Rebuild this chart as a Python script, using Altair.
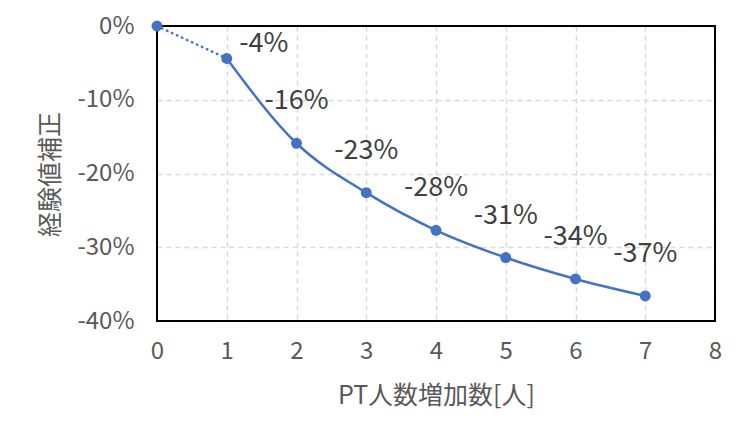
import altair as alt
import pandas as pd

xs = [0, 1, 2, 3, 4, 5, 6, 7]
vals = [0.0, -4.4, -15.9, -22.6, -27.7, -31.4, -34.3, -36.6]
labels = ["0%", "-4%", "-16%", "-23%", "-28%", "-31%", "-34%", "-37%"]

df = pd.DataFrame({"x": xs, "y": vals, "label": labels})

FONT = "Noto Sans CJK JP"
BLUE = "#4472C4"

xscale = alt.Scale(domain=[0, 8], nice=False, zero=False)
yscale = alt.Scale(domain=[-40, 0], nice=False)

xenc = alt.X("x:Q", scale=xscale,
             axis=alt.Axis(title="PT人数増加数[人]", values=list(range(0, 9)), format="d",
                           labelOverlap=False, labelFlush=False,
                           labelPadding=18, titlePadding=20))
yenc = alt.Y("y:Q", scale=yscale,
             axis=alt.Axis(title="経験値補正", values=[0, -10, -20, -30, -40],
                           labelExpr="datum.value + '%'", labelPadding=23,
                           labelOverlap=False, labelFlush=False,
                           titleX=-94, titleY=148))

base = alt.Chart(df)

dotted = base.transform_filter("datum.x <= 1").mark_line(
    color=BLUE, strokeWidth=2.5, strokeDash=[0.5, 5], strokeCap="round"
).encode(x=xenc, y=yenc)

solid = base.transform_filter("datum.x >= 1").mark_line(
    color=BLUE, strokeWidth=2.5, interpolate="monotone"
).encode(x="x:Q", y="y:Q")

frame = base.transform_filter("datum.x == 0").mark_rect(
    filled=False, stroke="black", strokeWidth=2, fillOpacity=0
).encode(x=alt.value(0), x2=alt.value(558), y=alt.value(0), y2=alt.value(295))

pts = base.mark_circle(color=BLUE, size=120, opacity=1).encode(x="x:Q", y="y:Q")

txt_main = base.transform_filter("datum.x >= 2").mark_text(
    font=FONT, fontSize=27, color="#404040", dy=-42, baseline="middle", align="center"
).encode(x="x:Q", y="y:Q", text="label:N")

txt_first = base.transform_filter("datum.x == 1").mark_text(
    font=FONT, fontSize=27, color="#404040", dx=37, dy=-14, baseline="middle", align="center"
).encode(x="x:Q", y="y:Q", text="label:N")

chart = alt.layer(dotted, solid, frame, pts, txt_main, txt_first).properties(
    width=558, height=295,
    autosize=alt.AutoSizeParams(type="none"),
    padding={"left": 149, "top": 18, "right": 22, "bottom": 110},
    background="white",
).configure_view(
    stroke=None
).configure_axis(
    domain=False, ticks=False,
    grid=True, gridColor="#d9d9d9", gridDash=[5, 4], gridWidth=1.5,
    labelFont=FONT, labelFontSize=24, labelColor="#595959",
    titleFont=FONT, titleFontSize=25, titleColor="#595959", titleFontWeight="normal",
)

chart.save("out.html", embed_options={"renderer": "svg", "actions": False})
